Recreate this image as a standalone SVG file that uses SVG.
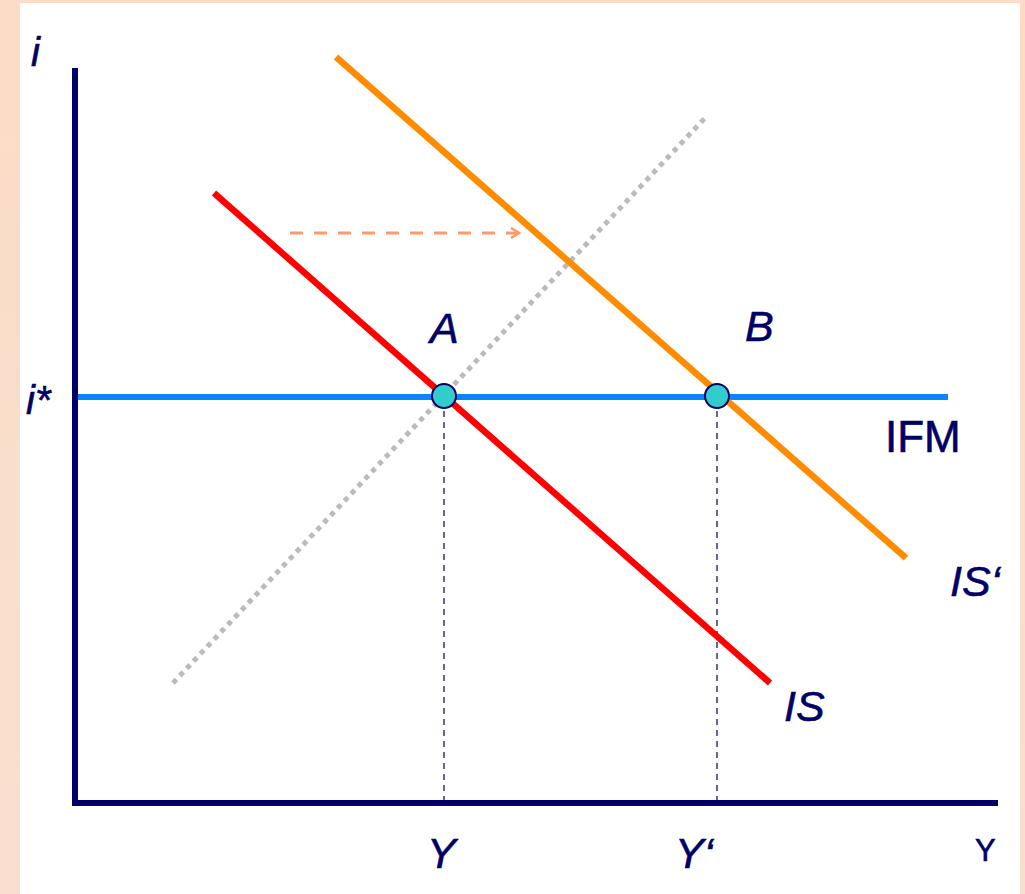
<svg xmlns="http://www.w3.org/2000/svg" width="1025" height="894" viewBox="0 0 1025 894">
<defs>
<linearGradient id="bg" x1="0" y1="0" x2="0" y2="1">
<stop offset="0" stop-color="#FBDCC6"/>
<stop offset="1" stop-color="#F8E0D0"/>
</linearGradient>
<marker id="arr" viewBox="0 0 12 12" refX="10" refY="6" markerWidth="12" markerHeight="12" markerUnits="userSpaceOnUse" orient="auto">
<path d="M2,1 L10,6 L2,11" fill="none" stroke="#FF9966" stroke-width="2.5"/>
</marker>
</defs>
<style>
.lbl{font-family:"Liberation Sans",Arial,sans-serif;fill:#000066;stroke:#000066;stroke-width:0.6;}
.it{font-style:italic;}
.guide{stroke:#333377;stroke-width:1.5;stroke-dasharray:6,5;}
.pt{fill:#33CCCC;stroke:#000066;stroke-width:2;}
</style>
<rect x="0" y="0" width="1025" height="894" fill="url(#bg)"/>
<rect x="20" y="3" width="1000" height="891" fill="#FFFFFF"/>
<g id="connectors">
<line class="guide" x1="444" y1="400" x2="444" y2="801"/>
<line class="guide" x1="717" y1="400" x2="717" y2="801"/>
<line x1="173" y1="683" x2="705" y2="118" stroke="#BBBBBB" stroke-width="5" stroke-dasharray="5,5"/>
<line id="ifm" x1="78" y1="397" x2="948" y2="397" stroke="#0A84FF" stroke-width="6"/>
<line id="is" x1="214" y1="193" x2="770" y2="683" stroke="#FF0000" stroke-width="6.5"/>
<line id="is2" x1="336" y1="57" x2="906" y2="558" stroke="#FF8C00" stroke-width="6.5"/>
<line x1="290" y1="233" x2="519" y2="233" stroke="#FF9966" stroke-width="3" stroke-dasharray="13,11" marker-end="url(#arr)"/>
<polyline points="75,68 75,803 998,803" fill="none" stroke="#000066" stroke-width="6"/>
</g>
<g id="pointA"><circle class="pt" cx="444" cy="396" r="12"/></g>
<g id="pointB"><circle class="pt" cx="717" cy="396" r="12"/></g>
<g id="labels">
<text class="lbl it" x="31" y="66" font-size="40">i</text>
<text class="lbl it" x="26" y="414" font-size="40">i*</text>
<text class="lbl it" x="430" y="343" font-size="43">A</text>
<text class="lbl it" x="745" y="341" font-size="43">B</text>
<text class="lbl" x="885" y="452" font-size="44">IFM</text>
<text class="lbl it" x="950" y="596" font-size="43">IS‘</text>
<text class="lbl it" x="784" y="721" font-size="43">IS</text>
<text class="lbl it" x="427" y="868" font-size="43">Y</text>
<text class="lbl it" x="675" y="868" font-size="43">Y‘</text>
<text class="lbl" x="975" y="861" font-size="31">Y</text>
</g>
</svg>
